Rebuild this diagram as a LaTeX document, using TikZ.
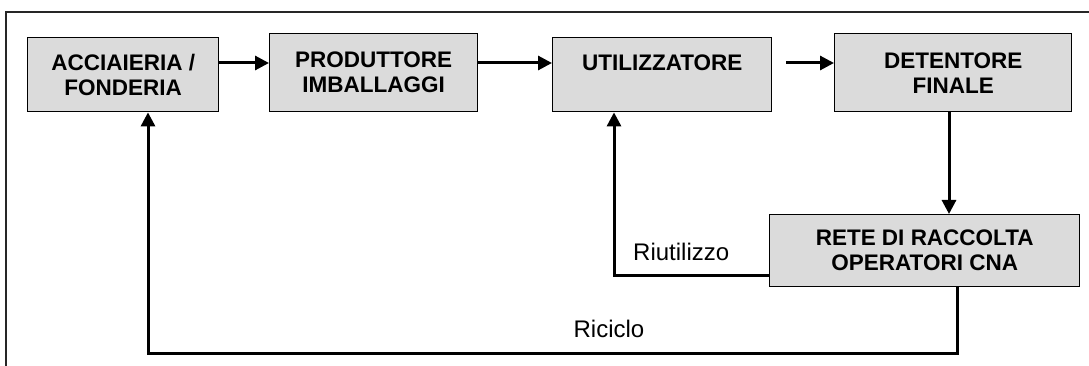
\documentclass[tikz,border=0pt]{standalone}
\usepackage{fontspec}
\setmainfont{Liberation Sans}
\usetikzlibrary{arrows.meta}
\tikzset{
    stage/.style={draw, line width=1.4pt, fill=black!14, anchor=north west, align=center,
        font=\bfseries\fontsize{22.5}{25}\selectfont, inner sep=0pt},
    flow/.style={line width=3pt, -{Triangle[length=14pt,width=14pt]}},
    link/.style={line width=3pt},
    lbl/.style={font=\fontsize{24}{27}\selectfont, inner sep=0pt}
}
\begin{document}
\begin{tikzpicture}[x=1pt,y=-1pt]
    \useasboundingbox (0,0) rectangle (1089,366);
    % frame
    \draw[line width=1.3pt, black!85] (6,366) -- (6,12) -- (1089,12);
    % chain of stages
    \node[stage, minimum width=191pt, minimum height=74pt] (acc) at (27,37) {ACCIAIERIA /\\FONDERIA};
    \node[stage, minimum width=208pt, minimum height=78pt] (prod) at (269,33) {PRODUTTORE\\IMBALLAGGI};
    \node[stage, minimum width=219pt, minimum height=74pt] (util) at (552,37) {UTILIZZATORE\\\mbox{}};
    \node[stage, minimum width=237pt, minimum height=78pt] (det) at (834,33) {DETENTORE\\FINALE};
    \node[stage, minimum width=310pt, minimum height=72pt] (rete) at (769,214) {RETE DI RACCOLTA\\OPERATORI CNA};
    % forward arrows
    \coordinate (flowline) at (0,63);
    \draw[flow] (acc.east |- flowline) -- (prod.west |- flowline);
    \draw[flow] (prod.east |- flowline) -- (util.west |- flowline);
    \draw[flow] ([xshift=14pt]util.east |- flowline) -- (det.west |- flowline);
    \draw[flow] (det.south -| 949,0) -- (rete.north -| 949,0);
    % reuse
    \coordinate (reuse) at (614,275);
    \draw[flow] (rete.west |- reuse) -- (reuse) -- (util.south -| reuse);
    \node[lbl, anchor=west] (riut) at (633,252) {Riutilizzo};
    % recycling
    \coordinate (recyR) at (957,353);
    \coordinate (recyL) at (148,353);
    \draw[flow] (rete.south -| recyR) -- (recyR) -- (recyL) -- (acc.south -| recyL);
    \node[lbl] (ricic) at (609,329) {Riciclo};
\end{tikzpicture}
\end{document}
